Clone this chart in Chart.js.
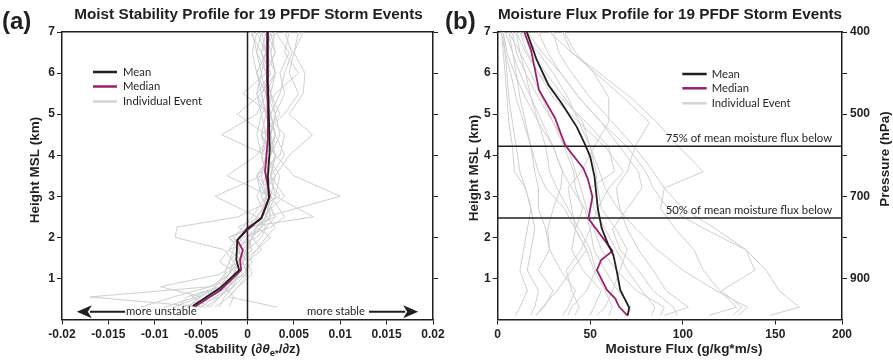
<!DOCTYPE html>
<html>
<head>
<meta charset="utf-8">
<script src="https://cdn.jsdelivr.net/npm/chart.js@4/dist/chart.umd.min.js"></script>
<style>
  html, body { margin: 0; padding: 0; background: #fff; }
  #wrap { position: relative; width: 893px; height: 362px; overflow: hidden; }
  canvas { position: absolute; top: 0; }
  #chartA { left: 0; }
  #chartB { left: 443px; }
</style>
</head>
<body>
<div id="wrap">
  <canvas id="chartA" width="447" height="362"></canvas>
  <canvas id="chartB" width="450" height="362"></canvas>
</div>
<script>
// ---------- panel (a): moist stability, d(theta_e*)/dz vs height (km) ----------
const stabHeights = [0.3, 0.55, 0.8, 1.1, 1.4, 1.7, 2.0, 2.25, 2.5, 3.0, 3.5, 4.0, 4.5, 5.0, 5.5, 6.0, 6.5, 7.0];
const stabEvents = [
  [-0.0045, -0.0170, -0.0040, 0.0000, -0.0005, -0.0010, 0.0000, 0.0010, 0.0025, 0.0020, 0.0015, 0.0020, 0.0030, 0.0025, -0.0005, 0.0020, 0.0030, 0.0025],
  [-0.0115, -0.0080, -0.0040, -0.0020, -0.0015, -0.0025, -0.0078, -0.0076, -0.0010, 0.0035, 0.0020, 0.0015, 0.0025, 0.0030, 0.0020, 0.0015, 0.0020, 0.0010],
  [0.0032, -0.0020, -0.0010, 0.0005, 0.0000, 0.0010, 0.0020, 0.0030, 0.0020, 0.0100, 0.0050, 0.0030, 0.0015, 0.0040, 0.0055, 0.0045, 0.0050, 0.0055],
  [-0.0080, -0.0050, -0.0094, -0.0030, -0.0010, 0.0005, -0.0010, 0.0000, 0.0071, 0.0030, 0.0010, 0.0035, 0.0040, 0.0020, 0.0015, 0.0025, 0.0015, 0.0020],
  [-0.0050, -0.0035, -0.0015, -0.0025, -0.0005, -0.0020, 0.0010, 0.0020, 0.0010, -0.0035, 0.0015, 0.0020, 0.0015, 0.0035, 0.0025, 0.0020, 0.0030, 0.0020],
  [-0.0040, -0.0060, -0.0030, -0.0010, -0.0020, -0.0015, -0.0005, 0.0025, 0.0040, 0.0025, -0.0022, 0.0010, 0.0025, 0.0020, 0.0010, 0.0025, 0.0015, 0.0003],
  [-0.0070, -0.0040, -0.0020, -0.0005, 0.0005, -0.0005, -0.0020, 0.0005, 0.0030, 0.0015, 0.0030, 0.0045, 0.0070, 0.0045, 0.0060, 0.0062, 0.0050, 0.0060],
  [-0.0030, -0.0025, -0.0015, -0.0002, 0.0000, 0.0015, 0.0005, -0.0010, 0.0015, 0.0040, 0.0025, 0.0020, -0.0028, 0.0010, 0.0020, 0.0010, 0.0020, 0.0015],
  [-0.0065, -0.0050, -0.0035, -0.0020, -0.0010, 0.0000, 0.0015, 0.0020, 0.0030, 0.0020, 0.0025, 0.0030, 0.0020, -0.0011, 0.0015, 0.0030, 0.0025, 0.0030],
  [-0.0090, -0.0055, -0.0025, -0.0015, -0.0008, -0.0002, 0.0005, 0.0015, 0.0020, 0.0025, 0.0020, 0.0015, 0.0020, 0.0015, 0.0030, 0.0055, 0.0040, 0.0045],
  [-0.0045, -0.0030, -0.0020, -0.0010, -0.0030, -0.0020, -0.0010, 0.0000, 0.0010, 0.0030, 0.0035, 0.0020, 0.0030, 0.0025, 0.0020, 0.0010, 0.0005, 0.0010],
  [-0.0020, -0.0015, -0.0025, -0.0005, -0.0015, -0.0008, -0.0015, -0.0005, 0.0005, 0.0020, 0.0010, 0.0025, 0.0015, 0.0020, 0.0025, 0.0020, 0.0010, 0.0005],
  [-0.0075, -0.0065, -0.0030, -0.0010, -0.0005, 0.0005, 0.0000, 0.0010, 0.0020, 0.0010, 0.0020, 0.0030, 0.0025, 0.0030, 0.0040, 0.0035, 0.0045, 0.0030],
  [-0.0055, -0.0040, -0.0020, -0.0015, -0.0010, -0.0005, 0.0005, 0.0015, 0.0010, 0.0025, 0.0030, 0.0020, 0.0025, 0.0020, 0.0015, 0.0010, 0.0020, 0.0025],
  [-0.0035, -0.0020, -0.0010, 0.0000, -0.0005, 0.0010, 0.0025, 0.0010, 0.0020, 0.0030, 0.0025, 0.0040, 0.0030, 0.0025, 0.0035, 0.0040, 0.0048, 0.0040],
  [-0.0060, -0.0045, -0.0035, -0.0025, -0.0020, -0.0010, -0.0020, 0.0005, 0.0015, 0.0020, 0.0020, 0.0015, 0.0010, 0.0015, 0.0010, 0.0015, 0.0010, 0.0015],
  [-0.0040, -0.0030, -0.0020, -0.0010, 0.0000, -0.0010, 0.0000, 0.0015, 0.0025, 0.0015, 0.0010, 0.0025, 0.0035, 0.0030, 0.0025, 0.0030, 0.0025, 0.0020],
  [-0.0050, -0.0045, -0.0030, -0.0020, -0.0010, -0.0005, -0.0015, 0.0000, 0.0015, 0.0020, 0.0025, 0.0030, 0.0020, 0.0025, 0.0020, 0.0030, 0.0020, 0.0025],
  [-0.0065, -0.0030, -0.0015, -0.0010, -0.0005, 0.0000, 0.0005, 0.0010, 0.0020, 0.0025, 0.0020, 0.0025, 0.0030, 0.0020, 0.0025, 0.0020, 0.0015, 0.0030]
];
const stabMeanH = [0.33, 0.76, 1.2, 1.45, 1.93, 2.22, 2.46, 2.95, 3.5, 4.13, 5.0, 5.8, 7.0];
const stabMean = [-0.0059, -0.0030, -0.0009, -0.0012, -0.0011, 0.0000, 0.0015, 0.0023, 0.0022, 0.0024, 0.0023, 0.0022, 0.0022];
const stabMedianH = [0.31, 0.72, 1.2, 1.45, 1.69, 1.93, 2.18, 2.48, 3.0, 3.6, 4.4, 5.0, 5.8, 7.0];
const stabMedian = [-0.0057, -0.0029, -0.0007, -0.0008, -0.0005, -0.0011, 0.0000, 0.0015, 0.0024, 0.0019, 0.0022, 0.0022, 0.0021, 0.0021];
const stabTicks = [-0.02, -0.015, -0.01, -0.005, 0, 0.005, 0.01, 0.015, 0.02];
const unstableArrow = [-0.0184, -0.0132]; // tip, tail
const stableArrow = [0.0131, 0.0184];     // tail, tip
const arrowHeight = 0.19;

// ---------- panel (b): moisture flux vs height (km) ----------
const fluxHeights = [0.1, 0.3, 0.7, 1.2, 1.7, 2.2, 2.7, 3.2, 3.6, 4.2, 4.8, 5.4, 6.0, 6.5, 7.0];
const fluxEvents = [
  [147, 163, 152, 145, 134, 118, 100, 90, 84, 74, 62, 50, 40, 33, 30],
  [127, 132, 121, 139, 134, 112, 92, 84, 80, 70, 56, 44, 34, 27, 22],
  [114, 129, 120, 111, 106, 96, 88, 90, 111, 98, 86, 72, 55, 40, 35],
  [90, 103, 91, 84, 76, 70, 66, 64, 70, 74, 82, 68, 53, 40, 28],
  [97, 95, 84, 76, 66, 62, 70, 78, 76, 66, 56, 44, 34, 24, 16],
  [130, 135, 118, 100, 86, 75, 65, 58, 55, 50, 44, 38, 30, 22, 12],
  [83, 85, 78, 70, 64, 58, 52, 50, 63, 60, 48, 34, 22, 15, 10],
  [88, 90, 75, 64, 56, 52, 48, 45, 42, 38, 30, 22, 15, 10, 8],
  [53.7, 58, 62, 66, 70, 64, 56, 54, 53, 50, 46, 36, 26, 18, 14],
  [70, 72, 65, 58, 52, 50, 54, 60, 68, 58, 44, 30, 22, 16, 12],
  [49.8, 52, 56, 46, 40, 42, 46, 42, 41, 36, 30, 24, 18, 12, 6],
  [41.6, 44, 40, 37, 45, 50, 47, 40, 35, 30, 24, 18, 12, 8, 4],
  [35, 38, 42, 34, 28, 27, 30, 34, 35, 30, 22, 15, 9, 5, 3],
  [20.5, 25, 30, 22, 28, 26, 22, 22, 20, 18, 14, 10, 7, 4, 2],
  [17.7, 20, 22, 16, 18, 20, 18, 15, 9, 8, 6, 5, 4, 3, 2],
  [9.6, 12, 16, 12, 14, 16, 18, 15, 12, 10, 8, 6, 5, 4, 3],
  [21, 24, 32, 40, 48, 42, 36, 26, 22, 18, 15, 12, 10, 8, 6],
  [38, 40, 48, 53, 50, 44, 38, 32, 28, 26, 22, 18, 15, 12, 10],
  [60, 62, 58, 52, 48, 42, 40, 38, 45, 52, 60, 60, 52, 42, 36]
];
const fluxMeanH = [0.11, 0.29, 0.72, 1.16, 1.57, 1.81, 2.22, 2.7, 3.48, 3.96, 4.25, 4.69, 5.26, 5.71, 6.32, 6.89, 7.0];
const fluxMean = [70.3, 71, 66.2, 64.4, 62.5, 59.8, 56.2, 54.1, 52.3, 50, 47.3, 42.7, 34.6, 27.4, 21.1, 16.6, 15.7];
const fluxMedianH = [0.09, 0.31, 0.51, 0.72, 1.2, 1.45, 1.67, 2.46, 2.99, 3.42, 3.68, 4.25, 4.9, 5.59, 6.07, 6.56, 7.0];
const fluxMedian = [70.3, 65.6, 63.5, 59, 53.6, 55.9, 62, 49, 51.2, 48.7, 46.3, 36.4, 31, 22.3, 20.2, 18, 14.4];
const flux75Height = 4.22;   // 75% of mean moisture flux below
const flux50Height = 2.47;   // 50% of mean moisture flux below
// the original frame ends at ~186 but its last tick is labelled 200
const fluxMax = 186;
const fluxTicks = [0, 50, 100, 150, 186];
const fluxTickLabels = ['0', '50', '100', '150', '200'];
const pressureAt = [7, 5, 3, 1];
const pressureLabels = ['400', '500', '700', '900'];
const heightTicks = [1, 2, 3, 4, 5, 6, 7];

// ---------- styling ----------
const INK = '#231f20', GREY = '#cfcfcf', MAGENTA = '#9e1f6e';
const SANS = "'Liberation Sans', Arial, Helvetica, sans-serif";
const SOFT = "Lato, 'Open Sans', sans-serif";
const SOFT_FONT = '11.3px ' + SOFT;
Chart.defaults.font.family = SANS;
Chart.defaults.color = INK;

function pts(hs, vs) {
  return hs.map((h, i) => ({ x: vs[i], y: h }));
}

function line(data, color, width) {
  return { data, borderColor: color, backgroundColor: color, borderWidth: width,
    showLine: true, pointRadius: 0, tension: 0, fill: false };
}

function buildSets(meanH, meanV, medH, medV, extra, eventH, events) {
  return [
    line(pts(meanH, meanV), INK, 1.8),
    line(pts(medH, medV), MAGENTA, 1.8),
    ...extra,
    ...events.map(ev => line(pts(eventH, ev), GREY, 1))
  ];
}

function scales(o) {
  const tickFont = { weight: 'bold', size: 12, family: SANS };
  return {
    x: {
      type: 'linear', position: 'bottom', min: o.xMin, max: o.xMax,
      afterBuildTicks: s => { s.ticks = o.xTicks.map(v => ({ value: v })); },
      // fixed height, and no extra room for the end labels
      afterFit: s => { s.height = 42.5; s.paddingLeft = 0; s.paddingRight = 0; },
      grid: { drawOnChartArea: false, tickLength: 5, color: INK, lineWidth: 1 },
      border: { color: INK, width: 1.5 },
      ticks: { font: tickFont, color: INK, padding: 3, maxRotation: 0, autoSkip: false, callback: o.xLabel }
    },
    xTop: {
      type: 'linear', position: 'top', min: o.xMin, max: o.xMax,
      afterFit: s => { s.height = 0; s.paddingLeft = 0; s.paddingRight = 0; },
      grid: { drawOnChartArea: false, drawTicks: false },
      border: { color: INK, width: 1.5 },
      ticks: { display: false }
    },
    y: {
      type: 'linear', position: 'left', min: 0, max: 7,
      afterBuildTicks: s => { s.ticks = heightTicks.map(v => ({ value: v })); },
      afterFit: s => { s.width = o.leftW; s.paddingTop = 0; s.paddingBottom = 0; },
      grid: { drawOnChartArea: false, tickLength: 5, color: INK, lineWidth: 1 },
      border: { color: INK, width: 1.5 },
      ticks: { font: tickFont, color: INK, padding: 2 }
    },
    yRight: {
      type: 'linear', position: 'right', min: 0, max: 7,
      afterBuildTicks: s => { s.ticks = heightTicks.map(v => ({ value: v })); },
      afterFit: s => { s.width = o.rightW; s.paddingTop = 0; s.paddingBottom = 0; },
      grid: { drawOnChartArea: false, tickLength: 5, color: INK, lineWidth: 1 },
      border: { color: INK, width: 1.5 },
      ticks: { display: o.rightLabels, font: tickFont, color: INK, padding: 3,
        callback: v => { const i = pressureAt.indexOf(v); return i < 0 ? '' : pressureLabels[i]; } }
    }
  };
}

// ---------- drawing helpers for the text around the plots ----------
function text(ctx, s, x, y, font, align) {
  ctx.font = font;
  ctx.fillStyle = INK;
  ctx.textAlign = align || 'left';
  ctx.textBaseline = 'middle';
  ctx.fillText(s, x, y);
}

function rotated(ctx, s, x, y, font) {
  ctx.save();
  ctx.translate(x, y);
  ctx.rotate(-Math.PI / 2);
  text(ctx, s, 0, 0, font, 'center');
  ctx.restore();
}

function legend(ctx, x0, x1, xt, ys) {
  const items = [['Mean', INK], ['Median', MAGENTA], ['Individual Event', '#d4d4d4']];
  items.forEach(([label, color], i) => {
    ctx.strokeStyle = color;
    ctx.lineWidth = 2.5;
    ctx.beginPath();
    ctx.moveTo(x0, ys[i]);
    ctx.lineTo(x1, ys[i]);
    ctx.stroke();
    text(ctx, label, xt, ys[i], SOFT_FONT);
  });
}

function arrow(ctx, tail, tip, y) {
  const dir = Math.sign(tip - tail);
  const head = 15;
  ctx.strokeStyle = INK;
  ctx.fillStyle = INK;
  ctx.lineWidth = 2;
  ctx.beginPath();
  ctx.moveTo(tail, y);
  ctx.lineTo(tip - dir * head + dir * 2, y);
  ctx.stroke();
  ctx.beginPath();
  ctx.moveTo(tip, y);
  ctx.lineTo(tip - dir * head, y - 6.5);
  ctx.lineTo(tip - dir * (head - 4), y);
  ctx.lineTo(tip - dir * head, y + 6.5);
  ctx.closePath();
  ctx.fill();
}

function stabilityTitle(ctx, cx, cy) {
  const parts = [
    ['Stability (\u2202', 'bold 13.5px ' + SANS, 0],
    ['\u03b8', 'italic bold 13.5px ' + SANS, 0],
    ['e*', 'bold 9.5px ' + SANS, 4],
    ['/\u2202z)', 'bold 13.5px ' + SANS, 0]
  ];
  let w = 0;
  parts.forEach(p => { ctx.font = p[1]; w += ctx.measureText(p[0]).width; });
  let x = cx - w / 2;
  parts.forEach(p => {
    text(ctx, p[0], x, cy + p[2], p[1]);
    ctx.font = p[1];
    x += ctx.measureText(p[0]).width;
  });
}

const TITLE_FONT = 'bold 15.3px ' + SANS;
const AXIS_FONT = 'bold 13.5px ' + SANS;
const PANEL_FONT = 'bold 24px ' + SANS;

const decorA = {
  id: 'decorA',
  afterDraw(chart) {
    const { ctx } = chart;
    const { x, y } = chart.scales;
    ctx.save();
    text(ctx, '(a)', 2, 22, PANEL_FONT);
    text(ctx, 'Moist Stability Profile for 19 PFDF Storm Events', 248.5, 15, TITLE_FONT, 'center');
    rotated(ctx, 'Height MSL (km)', 35, 170, AXIS_FONT);
    stabilityTitle(ctx, 247.5, 349);
    legend(ctx, 93, 117, 123, [72, 86.5, 101.5]);
    const ay = y.getPixelForValue(arrowHeight);
    arrow(ctx, x.getPixelForValue(unstableArrow[1]), x.getPixelForValue(unstableArrow[0]), ay);
    arrow(ctx, x.getPixelForValue(stableArrow[0]), x.getPixelForValue(stableArrow[1]), ay);
    text(ctx, 'more unstable', x.getPixelForValue(unstableArrow[1]) + 1, ay, SOFT_FONT, 'left');
    text(ctx, 'more stable', x.getPixelForValue(stableArrow[0]) - 4, ay, SOFT_FONT, 'right');
    ctx.restore();
  }
};

const decorB = {
  id: 'decorB',
  afterDraw(chart) {
    const { ctx, chartArea } = chart;
    const { y } = chart.scales;
    ctx.save();
    text(ctx, '(b)', 2, 22, PANEL_FONT);
    text(ctx, 'Moisture Flux Profile for 19 PFDF Storm Events', 227, 15, TITLE_FONT, 'center');
    rotated(ctx, 'Height MSL (km)', 31.7, 168, AXIS_FONT);
    rotated(ctx, 'Pressure (hPa)', 442, 159, AXIS_FONT);
    text(ctx, 'Moisture Flux (g/kg*m/s)', 241, 349, AXIS_FONT, 'center');
    legend(ctx, 239.3, 263.7, 268.7, [74, 88.3, 103.3]);
    const right = chartArea.right - 10;
    text(ctx, '75% of mean moisture flux below', right, y.getPixelForValue(flux75Height) - 8, SOFT_FONT, 'right');
    text(ctx, '50% of mean moisture flux below', right, y.getPixelForValue(flux50Height) - 8, SOFT_FONT, 'right');
    ctx.restore();
  }
};

const baseOptions = {
  responsive: false,
  animation: false,
  devicePixelRatio: 1,
  events: [],
  plugins: { legend: { display: false }, tooltip: { enabled: false }, title: { display: false } }
};

new Chart(document.getElementById('chartA'), {
  type: 'scatter',
  data: {
    datasets: buildSets(stabMeanH, stabMean, stabMedianH, stabMedian,
      [line([{ x: 0, y: 0 }, { x: 0, y: 7 }], INK, 1.5)],
      stabHeights, stabEvents)
  },
  options: Object.assign({}, baseOptions, {
    layout: { padding: { top: 32, left: 0, right: 0, bottom: 0 } },
    scales: scales({
      xMin: -0.02, xMax: 0.02, xTicks: stabTicks,
      xLabel: v => String(Math.round(v * 1000) / 1000),
      leftW: 62, rightW: 14, rightLabels: false
    })
  }),
  plugins: [decorA]
});

new Chart(document.getElementById('chartB'), {
  type: 'scatter',
  data: {
    datasets: buildSets(fluxMeanH, fluxMean, fluxMedianH, fluxMedian,
      [line([{ x: 0, y: flux75Height }, { x: fluxMax, y: flux75Height }], INK, 1.5),
       line([{ x: 0, y: flux50Height }, { x: fluxMax, y: flux50Height }], INK, 1.5)],
      fluxHeights, fluxEvents)
  },
  options: Object.assign({}, baseOptions, {
    layout: { padding: { top: 32, left: 0, right: 0, bottom: 0 } },
    scales: scales({
      xMin: 0, xMax: fluxMax, xTicks: fluxTicks,
      xLabel: (v, i) => fluxTickLabels[i],
      leftW: 54.7, rightW: 51, rightLabels: true
    })
  }),
  plugins: [decorB]
});
</script>
</body>
</html>
